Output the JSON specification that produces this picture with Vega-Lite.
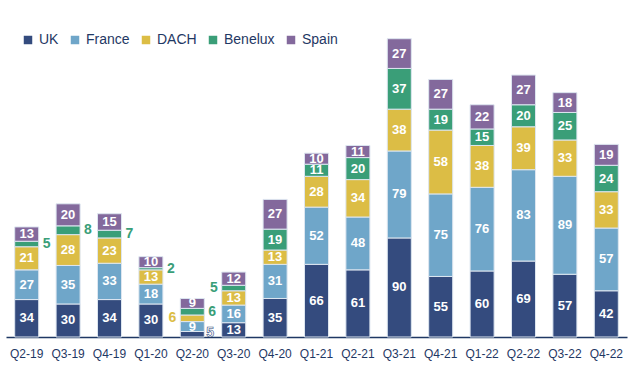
{
  "$schema": "https://vega.github.io/schema/vega-lite/v6.json",
  "autosize": {"type": "none"},
  "padding": {"left": 6, "top": 20, "right": 5, "bottom": 29},
  "width": 621,
  "height": 317,
  "background": "white",
  "config": {
    "view": {"stroke": null},
    "font": "Liberation Sans"
  },
  "data": {"values": [
    {"q":"Q2-19","r":"UK","v":34},{"q":"Q2-19","r":"France","v":27},{"q":"Q2-19","r":"DACH","v":21},{"q":"Q2-19","r":"Benelux","v":5},{"q":"Q2-19","r":"Spain","v":13},
    {"q":"Q3-19","r":"UK","v":30},{"q":"Q3-19","r":"France","v":35},{"q":"Q3-19","r":"DACH","v":28},{"q":"Q3-19","r":"Benelux","v":8},{"q":"Q3-19","r":"Spain","v":20},
    {"q":"Q4-19","r":"UK","v":34},{"q":"Q4-19","r":"France","v":33},{"q":"Q4-19","r":"DACH","v":23},{"q":"Q4-19","r":"Benelux","v":7},{"q":"Q4-19","r":"Spain","v":15},
    {"q":"Q1-20","r":"UK","v":30},{"q":"Q1-20","r":"France","v":18},{"q":"Q1-20","r":"DACH","v":13},{"q":"Q1-20","r":"Benelux","v":2},{"q":"Q1-20","r":"Spain","v":10},
    {"q":"Q2-20","r":"UK","v":5},{"q":"Q2-20","r":"France","v":9},{"q":"Q2-20","r":"DACH","v":6},{"q":"Q2-20","r":"Benelux","v":6},{"q":"Q2-20","r":"Spain","v":9},
    {"q":"Q3-20","r":"UK","v":13},{"q":"Q3-20","r":"France","v":16},{"q":"Q3-20","r":"DACH","v":13},{"q":"Q3-20","r":"Benelux","v":5},{"q":"Q3-20","r":"Spain","v":12},
    {"q":"Q4-20","r":"UK","v":35},{"q":"Q4-20","r":"France","v":31},{"q":"Q4-20","r":"DACH","v":13},{"q":"Q4-20","r":"Benelux","v":19},{"q":"Q4-20","r":"Spain","v":27},
    {"q":"Q1-21","r":"UK","v":66},{"q":"Q1-21","r":"France","v":52},{"q":"Q1-21","r":"DACH","v":28},{"q":"Q1-21","r":"Benelux","v":11},{"q":"Q1-21","r":"Spain","v":10},
    {"q":"Q2-21","r":"UK","v":61},{"q":"Q2-21","r":"France","v":48},{"q":"Q2-21","r":"DACH","v":34},{"q":"Q2-21","r":"Benelux","v":20},{"q":"Q2-21","r":"Spain","v":11},
    {"q":"Q3-21","r":"UK","v":90},{"q":"Q3-21","r":"France","v":79},{"q":"Q3-21","r":"DACH","v":38},{"q":"Q3-21","r":"Benelux","v":37},{"q":"Q3-21","r":"Spain","v":27},
    {"q":"Q4-21","r":"UK","v":55},{"q":"Q4-21","r":"France","v":75},{"q":"Q4-21","r":"DACH","v":58},{"q":"Q4-21","r":"Benelux","v":19},{"q":"Q4-21","r":"Spain","v":27},
    {"q":"Q1-22","r":"UK","v":60},{"q":"Q1-22","r":"France","v":76},{"q":"Q1-22","r":"DACH","v":38},{"q":"Q1-22","r":"Benelux","v":15},{"q":"Q1-22","r":"Spain","v":22},
    {"q":"Q2-22","r":"UK","v":69},{"q":"Q2-22","r":"France","v":83},{"q":"Q2-22","r":"DACH","v":39},{"q":"Q2-22","r":"Benelux","v":20},{"q":"Q2-22","r":"Spain","v":27},
    {"q":"Q3-22","r":"UK","v":57},{"q":"Q3-22","r":"France","v":89},{"q":"Q3-22","r":"DACH","v":33},{"q":"Q3-22","r":"Benelux","v":25},{"q":"Q3-22","r":"Spain","v":18},
    {"q":"Q4-22","r":"UK","v":42},{"q":"Q4-22","r":"France","v":57},{"q":"Q4-22","r":"DACH","v":33},{"q":"Q4-22","r":"Benelux","v":24},{"q":"Q4-22","r":"Spain","v":19}
  ]},
  "transform": [
    {"calculate": "indexof(['UK','France','DACH','Benelux','Spain'], datum.r)", "as": "rank"},
    {"stack": "v", "groupby": ["q"], "sort": [{"field": "rank", "order": "ascending"}], "as": ["v0", "v1"]},
    {"calculate": "(datum.v0 + datum.v1) / 2", "as": "mid"}
  ],
  "encoding": {
    "x": {
      "field": "q", "type": "nominal", "sort": null, "title": null,
      "scale": {"paddingInner": 0.42, "paddingOuter": 0.21},
      "axis": {
        "labelAngle": 0, "ticks": false, "labelPadding": 11, "labelFontSize": 12,
        "labelColor": "#1F3864", "domainColor": "#1F3864", "domainWidth": 1.5,
        "labelFont": "Liberation Sans"
      }
    }
  },
  "layer": [
    {
      "mark": {"type": "bar", "stroke": "#dde6f0", "strokeWidth": 1},
      "encoding": {
        "y": {"field": "v1", "type": "quantitative", "scale": {"domain": [0, 288], "nice": false}, "axis": null},
        "y2": {"field": "v0"},
        "color": {
          "field": "r", "type": "nominal", "title": null,
          "sort": ["UK", "France", "DACH", "Benelux", "Spain"],
          "scale": {"domain": ["UK", "France", "DACH", "Benelux", "Spain"], "range": ["#344B7E", "#6FA6C9", "#DCBD45", "#3A9E78", "#83699C"]},
          "legend": {
            "orient": "none", "legendX": 15, "legendY": 13, "direction": "horizontal",
            "symbolType": "square", "symbolSize": 72, "symbolStrokeWidth": 0,
            "labelFontSize": 14, "labelColor": "#1F3864", "labelOffset": 4, "columnPadding": 9,
            "labelFont": "Liberation Sans"
          }
        }
      }
    },
    {
      "transform": [{"filter": "datum.v >= 9"}],
      "mark": {"type": "text", "color": "white", "fontWeight": "bold", "fontSize": 13, "baseline": "middle"},
      "encoding": {
        "y": {"field": "mid", "type": "quantitative"},
        "text": {"field": "v", "type": "quantitative"}
      }
    },
    {
      "transform": [{"filter": "datum.v < 9 && datum.r == 'Benelux' && datum.q != 'Q3-20'"}],
      "mark": {"type": "text", "color": "#3A9E78", "fontWeight": "bold", "fontSize": 14, "baseline": "middle", "align": "left", "dx": 16},
      "encoding": {
        "y": {"field": "mid", "type": "quantitative"},
        "text": {"field": "v", "type": "quantitative"}
      }
    },
    {
      "transform": [{"filter": "datum.q == 'Q3-20' && datum.r == 'Benelux'"}],
      "mark": {"type": "text", "color": "#3A9E78", "fontWeight": "bold", "fontSize": 14, "baseline": "middle", "align": "right", "dx": -16},
      "encoding": {
        "y": {"field": "mid", "type": "quantitative"},
        "text": {"field": "v", "type": "quantitative"}
      }
    },
    {
      "transform": [{"filter": "datum.q == 'Q2-20' && datum.r == 'DACH'"}],
      "mark": {"type": "text", "color": "#DCBD45", "fontWeight": "bold", "fontSize": 14, "baseline": "middle", "align": "right", "dx": -16},
      "encoding": {
        "y": {"field": "mid", "type": "quantitative"},
        "text": {"field": "v", "type": "quantitative"}
      }
    },
    {
      "transform": [{"filter": "datum.q == 'Q2-20' && datum.r == 'UK'"}],
      "mark": {"type": "text", "color": "white", "stroke": "#344B7E", "strokeWidth": 0.6, "fontWeight": "bold", "fontSize": 14, "baseline": "middle", "align": "left", "dx": 14, "dy": -1},
      "encoding": {
        "y": {"field": "mid", "type": "quantitative"},
        "text": {"field": "v", "type": "quantitative"}
      }
    }
  ]
}
